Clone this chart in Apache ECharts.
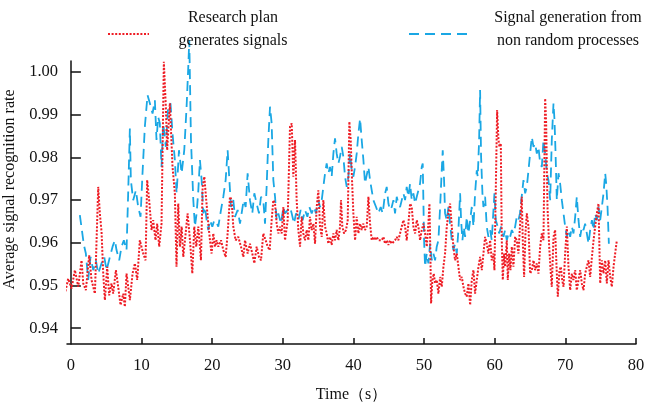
<!DOCTYPE html>
<html>
<head>
<meta charset="utf-8">
<title>Signal recognition rate</title>
<script src="https://cdn.jsdelivr.net/npm/echarts@6/dist/echarts.min.js"></script>
<style>
  html, body { margin: 0; padding: 0; background: #fff; }
  #chart { width: 650px; height: 406px; }
</style>
</head>
<body>
<div id="chart"></div>
<script>
// [time (s), rate]
const researchPlan = [
  [-0.99,0.9470],[-0.38,0.9516],[0.09,0.9493],[0.57,0.9536],[1.04,0.9497],[1.51,0.9559],[1.75,0.9505],[2.12,0.9489],[2.59,0.9571],[2.92,0.9513],
  [3.40,0.9481],[3.87,0.9731],[4.10,0.9669],[4.34,0.9626],[4.58,0.9528],[4.81,0.9466],[5.14,0.9544],[5.42,0.9477],[5.75,0.9505],[5.99,0.9481],
  [6.37,0.9536],[6.70,0.9497],[7.03,0.9454],[7.41,0.9481],[7.64,0.9450],[7.88,0.9528],[8.35,0.9466],[8.73,0.9528],[9.06,0.9552],[9.39,0.9513],
  [9.76,0.9606],[10.24,0.9575],[10.57,0.9559],[10.80,0.9747],[11.08,0.9700],[11.42,0.9630],[11.65,0.9653],[11.98,0.9606],[12.22,0.9645],[12.50,0.9591],
  [12.83,0.9645],[13.16,1.0024],[13.44,0.9919],[13.63,0.9817],[14.01,0.9927],[14.39,0.9778],[14.72,0.9716],[14.95,0.9544],
  [15.20,0.9692],[15.44,0.9591],[15.68,0.9638],[15.91,0.9567],[16.15,0.9606],[16.52,0.9669],[16.86,0.9606],[17.19,0.9528],[17.47,0.9638],[17.75,0.9591],
  [18.04,0.9638],[18.41,0.9559],[18.65,0.9731],[18.89,0.9755],[19.12,0.9708],[19.45,0.9645],[19.69,0.9606],[19.92,0.9575],[20.16,0.9622],[20.40,0.9591],
  [20.63,0.9606],[20.87,0.9591],[21.25,0.9606],[21.58,0.9583],[21.91,0.9567],[22.19,0.9622],[22.52,0.9708],[22.76,0.9700],[22.99,0.9638],[23.32,0.9606],
  [23.70,0.9614],[24.08,0.9591],[24.41,0.9567],[24.65,0.9606],[25.02,0.9575],[25.35,0.9598],[25.68,0.9575],[25.97,0.9552],[26.30,0.9591],[26.63,0.9567],
  [26.91,0.9559],[27.24,0.9622],[27.57,0.9606],[27.86,0.9591],[28.14,0.9583],[28.42,0.9653],[28.66,0.9700],[28.90,0.9692],[29.13,0.9645],[29.37,0.9622],
  [29.60,0.9638],[29.84,0.9622],[30.08,0.9684],[30.31,0.9606],[30.69,0.9653],
  [31.02,0.9872],[31.26,0.9880],[31.49,0.9755],[31.73,0.9841],[31.96,0.9700],[32.20,0.9630],[32.44,0.9591],[32.67,0.9661],[32.91,0.9622],[33.14,0.9606],
  [33.38,0.9630],[33.62,0.9606],[33.85,0.9661],[34.09,0.9630],[34.33,0.9645],[34.56,0.9598],[34.80,0.9684],[35.03,0.9723],[35.27,0.9638],[35.51,0.9614],
  [35.74,0.9700],[35.98,0.9638],[36.21,0.9622],[36.45,0.9598],[36.69,0.9614],[36.92,0.9595],[37.16,0.9622],[37.39,0.9606],[37.63,0.9630],[37.87,0.9606],
  [38.10,0.9638],[38.24,0.9700],[38.43,0.9638],[38.67,0.9622],[38.95,0.9630],[39.19,0.9653],[39.42,0.9884],[39.61,0.9841],[39.80,0.9747],[39.99,0.9669],
  [40.23,0.9606],[40.46,0.9661],[40.70,0.9622],[40.94,0.9645],[41.17,0.9630],[41.41,0.9645],[41.64,0.9630],[41.88,0.9638],[42.12,0.9708],[42.35,0.9645],
  [42.59,0.9606],[42.82,0.9614],[43.06,0.9606],[43.30,0.9614],[43.53,0.9606],[43.77,0.9610],[44.00,0.9606],[44.24,0.9614],[44.48,0.9598],[44.71,0.9606],
  [44.95,0.9595],[45.18,0.9606],[45.42,0.9598],[45.66,0.9595],[45.89,0.9606],[46.13,0.9614],[46.36,0.9606],[46.60,0.9622],[46.84,0.9638],[47.07,0.9653],
  [47.31,0.9638],[47.54,0.9606],[47.78,0.9645],[48.02,0.9692],[48.25,0.9684],[48.49,0.9638],[48.73,0.9622],[48.96,0.9653],[49.20,0.9638],[49.43,0.9606],
  [49.67,0.9630],[49.91,0.9645],[50.14,0.9622],[50.38,0.9591],[50.61,0.9645],[50.76,0.9692],[50.90,0.9567],[50.99,0.9458],[51.18,0.9513],[51.37,0.9528],
  [51.56,0.9505],[51.79,0.9513],[52.03,0.9481],[52.27,0.9520],[52.50,0.9497],[52.74,0.9544],[52.97,0.9575],[53.21,0.9638],[53.45,0.9669],[53.68,0.9692],
  [53.92,0.9638],[54.15,0.9591],[54.39,0.9559],[54.63,0.9575],[54.86,0.9544],[55.10,0.9513],[55.34,0.9520],[55.57,0.9497],[55.81,0.9481],[56.04,0.9474],
  [56.28,0.9505],[56.52,0.9454],[56.75,0.9513],[56.99,0.9536],[57.22,0.9481],[57.46,0.9513],[57.70,0.9544],[57.93,0.9567],[58.17,0.9536],[58.40,0.9575],
  [58.64,0.9614],[58.87,0.9598],[59.11,0.9575],[59.35,0.9606],[59.58,0.9559],[59.82,0.9575],[59.96,0.9536],[60.15,0.9723],[60.34,0.9911],[60.53,0.9841],
  [60.67,0.9825],[60.86,0.9833],[61.00,0.9606],[61.14,0.9513],[61.33,0.9575],[61.47,0.9544],[61.71,0.9606],[61.85,0.9513],[62.04,0.9575],[62.23,0.9536],
  [62.42,0.9591],[62.65,0.9544],[62.89,0.9614],[63.12,0.9606],[63.36,0.9575],[63.57,0.9638],[63.83,0.9708],
  [63.97,0.9606],[64.16,0.9520],[64.35,0.9622],[64.54,0.9669],[64.78,0.9638],[65.01,0.9528],[65.25,0.9536],[65.49,0.9559],[65.72,0.9536],[65.96,0.9552],
  [66.19,0.9528],[66.43,0.9591],[66.67,0.9622],[66.90,0.9606],[67.14,0.9938],[67.28,0.9880],[67.47,0.9684],[67.71,0.9591],[67.94,0.9528],[68.08,0.9497],
  [68.32,0.9614],[68.55,0.9630],[68.79,0.9528],[68.93,0.9474],[69.17,0.9536],[69.36,0.9544],[69.55,0.9513],[69.74,0.9497],[69.97,0.9575],[70.21,0.9638],
  [70.44,0.9544],[70.68,0.9489],[70.92,0.9528],[71.15,0.9513],[71.39,0.9536],[71.62,0.9489],[71.86,0.9513],[72.10,0.9536],[72.33,0.9505],[72.57,0.9489],
  [72.80,0.9528],[73.04,0.9544],[73.28,0.9559],[73.51,0.9520],[73.76,0.9567],[73.99,0.9606],[74.22,0.9638],[74.46,0.9669],[74.69,0.9692],[74.93,0.9505],
  [75.17,0.9559],[75.40,0.9528],[75.64,0.9559],[75.87,0.9505],[76.11,0.9559],[76.35,0.9520],[76.58,0.9497],[76.82,0.9544],[77.05,0.9575],[77.29,0.9606]
];

const nonRandom = [
  [1.27,0.9665],[1.84,0.9595],[2.12,0.9575],[2.45,0.9513],[2.78,0.9567],[3.16,0.9536],[3.54,0.9559],[3.87,0.9528],[4.34,0.9552],[4.72,0.9567],
  [5.05,0.9536],[5.52,0.9567],[5.90,0.9591],[6.23,0.9606],[6.46,0.9583],[6.84,0.9559],[7.17,0.9591],[7.50,0.9606],[7.88,0.9583],[8.11,0.9716],
  [8.35,0.9868],[8.49,0.9747],[8.82,0.9700],[9.20,0.9723],[9.53,0.9684],[9.86,0.9661],[10.14,0.9763],[10.47,0.9872],[10.85,0.9946],[11.18,0.9927],
  [11.56,0.9903],[11.89,0.9934],[12.12,0.9841],[12.36,0.9895],[12.59,0.9880],[12.83,0.9778],[13.07,0.9880],[13.44,0.9825],[13.77,0.9919],[14.10,0.9927],
  [14.39,0.9856],[14.72,0.9794],[14.97,0.9716],[15.30,0.9817],[15.68,0.9763],[16.05,0.9817],[16.38,0.9919],[16.62,1.0013],[16.76,1.0075],[17.00,0.9841],
  [17.33,0.9700],[17.56,0.9638],[17.80,0.9669],[18.04,0.9723],[18.27,0.9794],[18.51,0.9747],[18.74,0.9669],[18.98,0.9684],[19.22,0.9653],[19.45,0.9630],
  [19.69,0.9653],[20.02,0.9638],[20.30,0.9653],[20.59,0.9649],[20.87,0.9638],[21.25,0.9677],[21.58,0.9708],[21.91,0.9747],[22.19,0.9817],[22.38,0.9763],
  [22.66,0.9684],[22.99,0.9700],[23.23,0.9661],[23.61,0.9677],[23.94,0.9645],[24.17,0.9669],[24.46,0.9700],[24.74,0.9684],[25.02,0.9763],[25.35,0.9700],
  [25.68,0.9669],[25.97,0.9716],[26.30,0.9692],[26.63,0.9669],[26.91,0.9708],[27.24,0.9700],[27.48,0.9645],[27.71,0.9731],[27.95,0.9841],[28.19,0.9919],
  [28.42,0.9880],[28.66,0.9747],[28.90,0.9708],[29.13,0.9653],[29.37,0.9669],[29.75,0.9645],[30.08,0.9684],[30.31,0.9669],[30.69,0.9677],
  [31.02,0.9684],[31.26,0.9669],[31.59,0.9645],[31.87,0.9669],[32.20,0.9653],[32.53,0.9677],[32.81,0.9653],[33.14,0.9677],[33.48,0.9661],[33.76,0.9684],
  [34.09,0.9669],[34.42,0.9684],[34.70,0.9669],[35.03,0.9700],[35.27,0.9684],[35.51,0.9700],[35.74,0.9731],[35.98,0.9763],[36.21,0.9786],[36.45,0.9763],
  [36.69,0.9778],[36.92,0.9755],[37.16,0.9809],[37.39,0.9845],[37.63,0.9809],[37.87,0.9786],[38.10,0.9802],[38.34,0.9825],[38.57,0.9802],[38.81,0.9755],
  [39.05,0.9731],[39.28,0.9755],[39.52,0.9809],[39.75,0.9770],[39.99,0.9755],[40.23,0.9778],[40.46,0.9809],[40.70,0.9856],[40.94,0.9891],[41.17,0.9841],
  [41.41,0.9794],[41.64,0.9739],[41.88,0.9739],[42.12,0.9778],[42.35,0.9747],[42.59,0.9723],[42.82,0.9700],[43.20,0.9684],[43.53,0.9669],[43.86,0.9684],
  [44.14,0.9669],[44.48,0.9716],[44.71,0.9731],[44.95,0.9692],[45.18,0.9677],[45.42,0.9684],[45.66,0.9700],[45.89,0.9669],[46.13,0.9708],[46.36,0.9692],
  [46.60,0.9684],[46.84,0.9700],[47.07,0.9716],[47.31,0.9700],[47.54,0.9731],[47.78,0.9708],[48.02,0.9739],[48.25,0.9700],[48.49,0.9716],[48.73,0.9692],
  [48.96,0.9708],[49.20,0.9723],[49.43,0.9739],[49.67,0.9778],[49.81,0.9786],[50.00,0.9606],[50.14,0.9544],[50.38,0.9575],[50.61,0.9552],[50.85,0.9598],
  [51.09,0.9559],[51.32,0.9575],[51.56,0.9559],[51.79,0.9591],[52.03,0.9606],[52.27,0.9684],[52.50,0.9770],[52.64,0.9817],[52.83,0.9747],[52.97,0.9669],
  [53.21,0.9653],[53.45,0.9684],[53.68,0.9645],[53.92,0.9606],[54.15,0.9583],[54.39,0.9598],[54.63,0.9575],[54.86,0.9630],[55.10,0.9716],[55.24,0.9653],
  [55.43,0.9606],[55.62,0.9638],[55.81,0.9614],[56.04,0.9661],[56.28,0.9622],[56.52,0.9653],[56.75,0.9684],[56.99,0.9638],[57.22,0.9716],[57.46,0.9770],
  [57.60,0.9755],[57.79,0.9841],[57.93,0.9958],[58.07,0.9802],[58.26,0.9716],[58.40,0.9684],[58.64,0.9708],[58.87,0.9638],[59.11,0.9614],[59.35,0.9630],
  [59.58,0.9606],[59.82,0.9677],[59.96,0.9716],[60.15,0.9653],[60.43,0.9638],[60.62,0.9622],[60.91,0.9638],[61.24,0.9614],[61.47,0.9630],[61.71,0.9606],
  [61.95,0.9622],[62.18,0.9614],[62.42,0.9630],[62.65,0.9622],[62.89,0.9638],[63.12,0.9661],[63.36,0.9653],[63.57,0.9669],
  [63.83,0.9669],[64.07,0.9747],[64.31,0.9716],[64.54,0.9731],[64.78,0.9770],[65.01,0.9809],[65.25,0.9848],[65.49,0.9825],[65.72,0.9833],[65.96,0.9809],
  [66.19,0.9825],[66.43,0.9786],[66.67,0.9778],[66.90,0.9841],[67.14,0.9809],[67.38,0.9763],[67.61,0.9747],[67.85,0.9700],[68.08,0.9841],[68.32,0.9927],
  [68.46,0.9888],[68.60,0.9817],[68.79,0.9700],[69.03,0.9763],[69.26,0.9739],[69.50,0.9700],[69.74,0.9669],[69.97,0.9638],[70.21,0.9614],[70.44,0.9630],
  [70.68,0.9614],[70.92,0.9638],[71.15,0.9622],[71.39,0.9661],[71.62,0.9708],[71.86,0.9653],[72.10,0.9614],[72.33,0.9638],[72.57,0.9630],[72.80,0.9645],
  [73.04,0.9622],[73.28,0.9598],[73.51,0.9630],[73.76,0.9653],[73.99,0.9630],[74.22,0.9669],[74.46,0.9653],[74.69,0.9684],[74.93,0.9653],[75.17,0.9684],
  [75.40,0.9716],[75.64,0.9763],[75.78,0.9739],[75.97,0.9684],[76.16,0.9598]
];

const xTicks = [0, 10, 20, 30, 40, 50, 60, 70, 80];
const yTicks = [0.94, 0.95, 0.96, 0.97, 0.98, 0.99, 1.00];

const redName = 'Research plan generates signals';
const blueName = 'Signal generation from non random processes';

const serif = 'Liberation Serif, Times New Roman, serif';

const chart = echarts.init(document.getElementById('chart'));

function legendText(width) {
  return {
    fontFamily: serif,
    fontSize: 16,
    color: '#111',
    padding: [0, 0, 9, 0],
    rich: {
      c: { width: width, align: 'center', fontFamily: serif, fontSize: 16, lineHeight: 23, color: '#111' }
    }
  };
}

const option = {
  animation: false,
  backgroundColor: '#fff',
  legend: [
    {
      data: [redName],
      left: 107,
      top: 10,
      padding: 0,
      itemWidth: 41,
      itemHeight: 10,
      itemStyle: { opacity: 0, color: 'transparent', borderWidth: 0 },
      textStyle: legendText(158),
      formatter: () => '{c|Research plan}\n{c|generates signals}'
    },
    {
      data: [blueName],
      left: 408,
      top: 10,
      padding: 0,
      itemWidth: 62,
      itemHeight: 10,
      itemStyle: { opacity: 0, color: 'transparent', borderWidth: 0 },
      textStyle: legendText(184),
      formatter: () => '{c|Signal generation from}\n{c|non random processes}'
    }
  ],
  grid: { left: 67, right: 14, top: 61, bottom: 62, outerBoundsMode: 'none' },
  xAxis: {
    type: 'value',
    min: -0.55,
    max: 80,
    name: 'Time（s）',
    nameLocation: 'middle',
    nameGap: 43,
    nameTextStyle: { fontFamily: serif, fontSize: 16, color: '#111' },
    axisLine: { show: true, lineStyle: { color: '#111', width: 1.5 } },
    axisTick: { show: true, inside: true, length: 6, lineStyle: { color: '#111', width: 1.5 }, customValues: xTicks.slice(1) },
    axisLabel: { fontFamily: serif, fontSize: 16.5, color: '#111', margin: 13, customValues: xTicks },
    splitLine: { show: false }
  },
  yAxis: {
    type: 'value',
    min: 0.9363,
    max: 1.0026,
    name: 'Average signal recognition rate',
    nameLocation: 'middle',
    nameGap: 45,
    nameTextStyle: { fontFamily: serif, fontSize: 16, color: '#111', padding: [0, 0, 0, 26] },
    axisLine: { show: true, lineStyle: { color: '#111', width: 1.5 } },
    axisTick: { show: true, inside: true, length: 10, lineStyle: { color: '#111', width: 1.5 }, customValues: yTicks },
    axisLabel: {
      fontFamily: serif, fontSize: 16.5, color: '#111', margin: 9,
      customValues: yTicks,
      formatter: v => v.toFixed(2)
    },
    splitLine: { show: false }
  },
  series: [
    {
      name: blueName,
      type: 'line',
      data: nonRandom,
      symbol: 'none',
      clip: false,
      color: '#1aa7e4',
      lineStyle: { color: '#1aa7e4', width: 1.8, type: [10, 6] }
    },
    {
      name: redName,
      type: 'line',
      data: researchPlan,
      symbol: 'none',
      clip: false,
      color: '#ee1c24',
      lineStyle: { color: '#ee1c24', width: 2, type: [2, 1.6] }
    }
  ]
};

chart.setOption(option);
</script>
</body>
</html>
